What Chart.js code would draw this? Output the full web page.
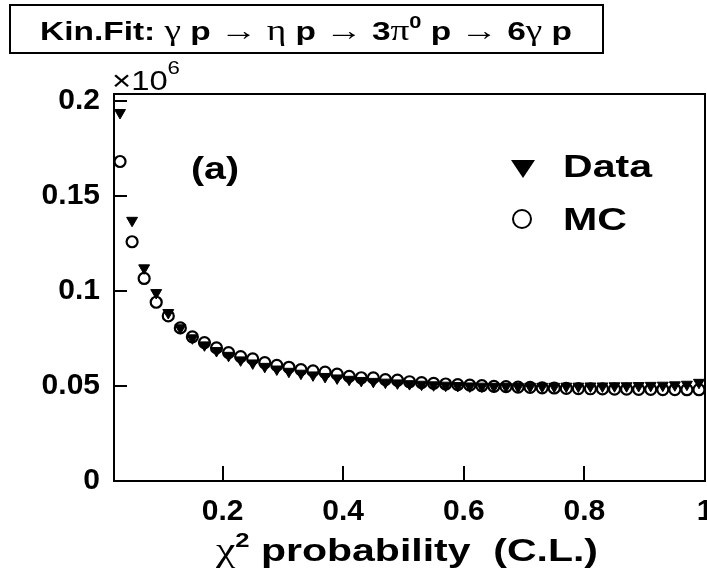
<!DOCTYPE html>
<html><head><meta charset="utf-8">
<script src="https://cdn.jsdelivr.net/npm/chart.js@4.4.0/dist/chart.umd.min.js"></script>
<style>html,body{margin:0;padding:0;background:#fff;}</style>
</head><body>
<canvas id="c" width="707" height="576"></canvas>
<script>
// chi^2 probability bin centres (C.L.)
const chiProb = [0.03,0.05,0.07,0.09,0.11,0.13,0.15,0.17,0.19,0.21,
  0.23,0.25,0.27,0.29,0.31,0.33,0.35,0.37,0.39,0.41,
  0.43,0.45,0.47,0.49,0.51,0.53,0.55,0.57,0.59,0.61,
  0.63,0.65,0.67,0.69,0.71,0.73,0.75,0.77,0.79,0.81,
  0.83,0.85,0.87,0.89,0.91,0.93,0.95,0.97,0.99];
// counts in units of 10^6
const dataCounts = [0.1937,0.1370,0.1120,0.0990,0.0885,0.0805,0.0752,0.0715,0.0685,0.0660,
  0.0636,0.0620,0.0602,0.0588,0.0576,0.0566,0.0557,0.0549,0.0541,0.0534,
  0.0528,0.0523,0.0519,0.0515,0.0511,0.0508,0.0505,0.0503,0.0501,0.0499,
  0.0498,0.0497,0.0497,0.0496,0.0497,0.0497,0.0497,0.0498,0.0498,0.0499,
  0.0499,0.0500,0.0500,0.0501,0.0502,0.0503,0.0505,0.0508,0.0518];
const mcCounts = [0.1680,0.1258,0.1065,0.0940,0.0868,0.0805,0.0758,0.0728,0.0700,0.0675,
  0.0654,0.0642,0.0622,0.0608,0.0598,0.0586,0.0579,0.0572,0.0562,0.0550,
  0.0543,0.0542,0.0533,0.0530,0.0522,0.0517,0.0513,0.0510,0.0507,0.0504,
  0.0501,0.0498,0.0496,0.0494,0.0492,0.0490,0.0489,0.0487,0.0486,0.0485,
  0.0484,0.0483,0.0483,0.0482,0.0482,0.0481,0.0481,0.0480,0.0480];
const xTicks = [0.2,0.4,0.6,0.8,1];
const yTicks = [0,0.05,0.1,0.15,0.2];
const seriesNames = ['Data','MC'];

const SANS = '"Liberation Sans", Arial, Helvetica, sans-serif';
const SERIF = '"Liberation Serif", "DejaVu Serif", "Times New Roman", serif';

function drawRich(ctx, segs, x, y, targetW) {
  let total = 0;
  segs.forEach(s => { ctx.font = s.f; s.w = ctx.measureText(s.t).width; total += s.w; });
  const k = targetW ? targetW / total : 1;
  ctx.save();
  ctx.translate(x, y);
  ctx.scale(k, 1);
  let cx = 0;
  ctx.textBaseline = 'alphabetic';
  ctx.textAlign = 'left';
  segs.forEach(s => { ctx.font = s.f; ctx.fillText(s.t, cx, s.dy || 0); cx += s.w; });
  ctx.restore();
}

const decor = {
  id: 'decor',
  afterDraw(chart) {
    const ctx = chart.ctx;
    const a = chart.chartArea;
    const xs = chart.scales.x, ys = chart.scales.y;
    ctx.save();
    ctx.fillStyle = '#000';
    ctx.strokeStyle = '#000';
    ctx.lineWidth = 2;
    // frame top & right
    ctx.beginPath();
    ctx.moveTo(a.left, a.top); ctx.lineTo(a.right, a.top); ctx.lineTo(a.right, a.bottom);
    ctx.stroke();
    // inner ticks
    ctx.beginPath();
    yTicks.forEach(v => { const py = Math.round(ys.getPixelForValue(v)); ctx.moveTo(a.left, py); ctx.lineTo(a.left + 13, py); });
    xTicks.forEach(v => { if (v < 1) { const px = Math.round(xs.getPixelForValue(v)); ctx.moveTo(px, a.bottom); ctx.lineTo(px, a.bottom - 15); } });
    ctx.stroke();

    // title box
    ctx.lineWidth = 2;
    ctx.strokeRect(10, 5, 593, 48);
    const B = 'bold 26px ' + SANS, G = '29px ' + SERIF;
    drawRich(ctx, [
      {t:'Kin.Fit: ', f:B}, {t:'γ', f:G}, {t:' p ', f:B}, {t:'→', f:G}, {t:' η', f:G},
      {t:' p ', f:B}, {t:'→', f:G}, {t:' 3', f:B}, {t:'π', f:G}, {t:'0', f:'bold 17px ' + SANS, dy:-12},
      {t:' p ', f:B}, {t:'→', f:G}, {t:' 6', f:B}, {t:'γ', f:G}, {t:' p', f:B}
    ], 40, 40, 532);

    // x10^6
    drawRich(ctx, [{t:'×10', f:'28px ' + SANS}, {t:'6', f:'19px ' + SANS, dy:-16}], 112, 90, 68);

    // (a)
    drawRich(ctx, [{t:'(a)', f:'bold 32px ' + SANS}], 191, 179, 48);

    // legend
    chart.data.datasets.forEach((ds, i) => {
      const cy = i === 0 ? 168 : 219;
      const px = 523;
      ctx.beginPath();
      if (i === 0) {
        ctx.moveTo(px - 12, cy - 8); ctx.lineTo(px + 12, cy - 8); ctx.lineTo(px, cy + 10); ctx.closePath();
        ctx.fill();
      } else {
        ctx.lineWidth = 2;
        ctx.arc(px - 1, cy, 9, 0, Math.PI * 2);
        ctx.stroke();
      }
      drawRich(ctx, [{t: ds.label, f: 'bold 31px ' + SANS}], 563, i === 0 ? 177 : 230, i === 0 ? 89 : 64);
    });

    // x-axis title
    drawRich(ctx, [
      {t:'χ', f:'34px ' + SERIF}, {t:'2', f:'bold 20px ' + SANS, dy:-14},
      {t:' probability  (C.L.)', f:'bold 32px ' + SANS}
    ], 216, 561, 382);
    ctx.restore();
  }
};

new Chart(document.getElementById('c'), {
  type: 'scatter',
  data: {
    datasets: [
      {
        label: seriesNames[0],
        data: chiProb.map((x, i) => ({x, y: dataCounts[i]})),
        pointStyle: 'triangle', rotation: 180, radius: 6.3,
        backgroundColor: '#000', borderColor: '#000', borderWidth: 1,
        clip: false
      },
      {
        label: seriesNames[1],
        data: chiProb.map((x, i) => ({x, y: mcCounts[i]})),
        pointStyle: 'circle', radius: 5.5,
        backgroundColor: 'rgba(0,0,0,0)', borderColor: '#000', borderWidth: 2.2,
        clip: false
      }
    ]
  },
  options: {
    responsive: false,
    animation: false,
    devicePixelRatio: 1,
    layout: { autoPadding: false, padding: { top: 94, right: 2, left: 0, bottom: 0 } },
    plugins: { legend: { display: false }, tooltip: { enabled: false }, title: { display: false } },
    elements: { point: { hoverRadius: 6 } },
    scales: {
      x: {
        type: 'linear', min: 0.02, max: 1,
        afterBuildTicks: s => { s.ticks = xTicks.map(v => ({value: v})); },
        afterFit: s => { s.height = 95; s.paddingLeft = 0; s.paddingRight = 0; },
        grid: { display: false, drawTicks: false },
        border: { display: true, color: '#000', width: 2 },
        ticks: {
          color: '#000', padding: 13,
          font: { family: SANS, size: 30, weight: 'bold' },
          maxRotation: 0, autoSkip: false,
          callback: v => String(v)
        }
      },
      y: {
        type: 'linear', min: 0, max: 0.2035,
        afterBuildTicks: s => { s.ticks = yTicks.map(v => ({value: v})); },
        afterFit: s => { s.width = 114; s.paddingTop = 0; s.paddingBottom = 0; },
        grid: { display: false, drawTicks: false },
        border: { display: true, color: '#000', width: 2 },
        ticks: {
          color: '#000', padding: 14,
          font: { family: SANS, size: 30, weight: 'bold' },
          callback: v => String(v)
        }
      }
    }
  },
  plugins: [decor]
});
</script>
</body></html>
